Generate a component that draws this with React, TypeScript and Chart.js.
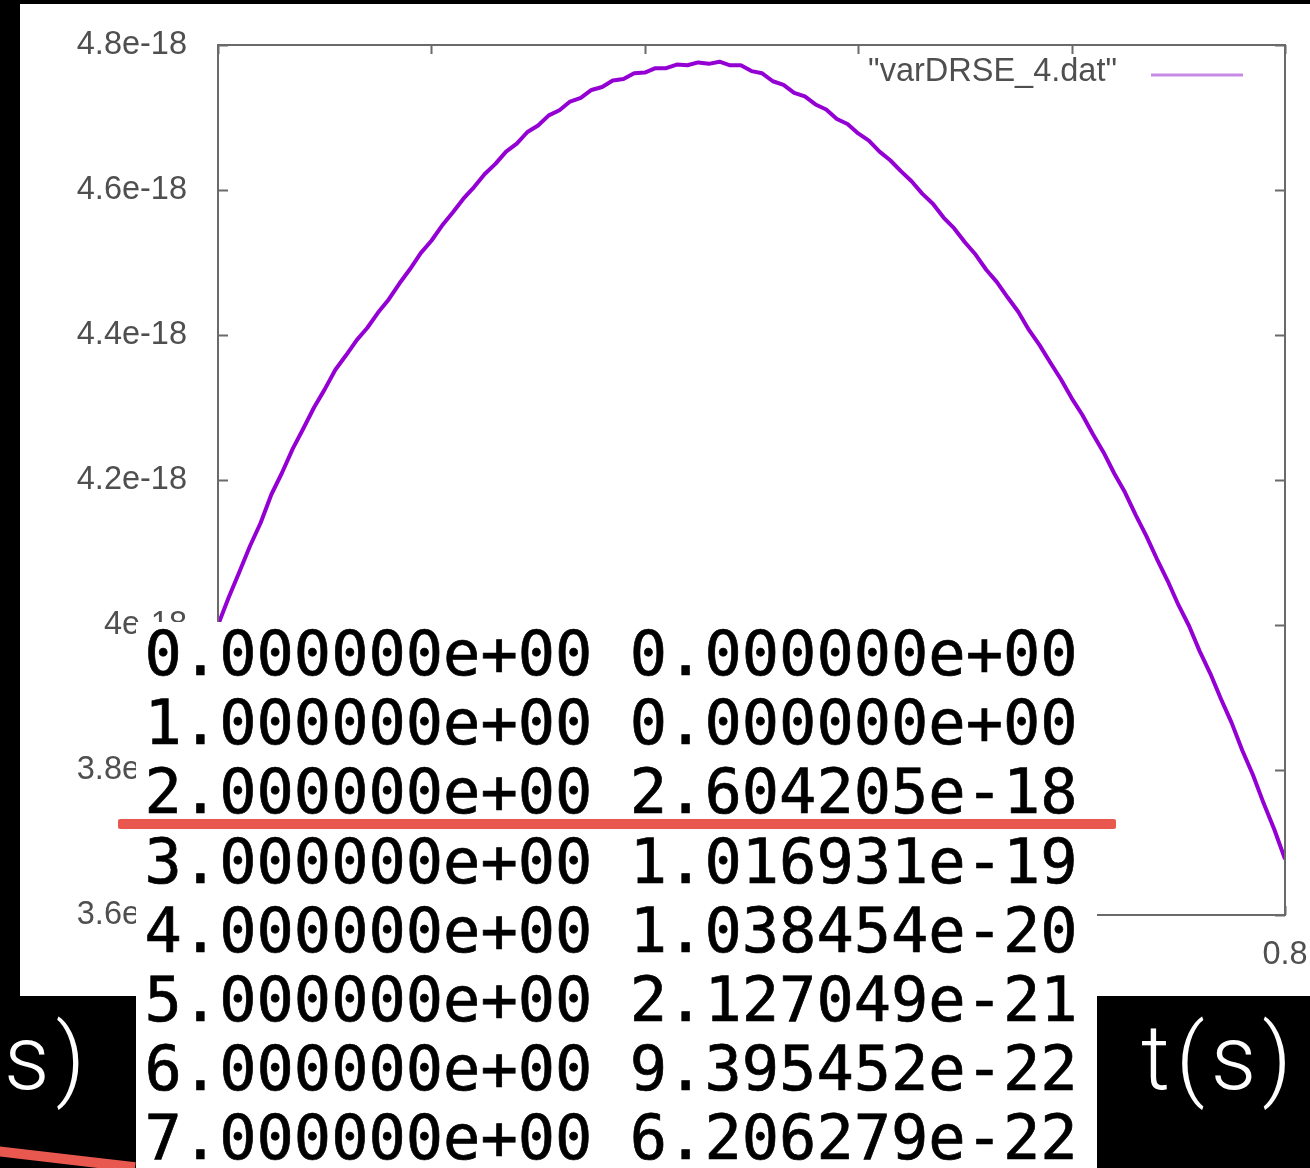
import React, { useEffect, useRef } from "react";
import { Chart, registerables } from "chart.js";

Chart.register(...registerables);

// ---- data ----
const seriesLabel = '"varDRSE_4.dat"';

const tValues = [
  0.300, 0.305, 0.310, 0.315, 0.320, 0.325, 0.330, 0.335, 0.340, 0.345,
  0.350, 0.355, 0.360, 0.365, 0.370, 0.375, 0.380, 0.385, 0.390, 0.395,
  0.400, 0.405, 0.410, 0.415, 0.420, 0.425, 0.430, 0.435, 0.440, 0.445,
  0.450, 0.455, 0.460, 0.465, 0.470, 0.475, 0.480, 0.485, 0.490, 0.495,
  0.500, 0.505, 0.510, 0.515, 0.520, 0.525, 0.530, 0.535, 0.540, 0.545,
  0.550, 0.555, 0.560, 0.565, 0.570, 0.575, 0.580, 0.585, 0.590, 0.595,
  0.600, 0.605, 0.610, 0.615, 0.620, 0.625, 0.630, 0.635, 0.640, 0.645,
  0.650, 0.655, 0.660, 0.665, 0.670, 0.675, 0.680, 0.685, 0.690, 0.695,
  0.700, 0.705, 0.710, 0.715, 0.720, 0.725, 0.730, 0.735, 0.740, 0.745,
  0.750, 0.755, 0.760, 0.765, 0.770, 0.775, 0.780, 0.785, 0.790, 0.795,
  0.800,
];

// variance values, in units of 1e-18
const varValues = [
  4.000, 4.038, 4.073, 4.109, 4.141, 4.180, 4.210, 4.243, 4.271, 4.300,
  4.325, 4.352, 4.372, 4.393, 4.410, 4.431, 4.449, 4.471, 4.491, 4.513,
  4.530, 4.551, 4.569, 4.588, 4.604, 4.622, 4.636, 4.653, 4.664, 4.680,
  4.689, 4.703, 4.710, 4.722, 4.727, 4.738, 4.742, 4.751, 4.753, 4.761,
  4.762, 4.768, 4.768, 4.773, 4.772, 4.776, 4.774, 4.777, 4.772, 4.772,
  4.764, 4.761, 4.750, 4.745, 4.734, 4.729, 4.718, 4.711, 4.698, 4.691,
  4.678, 4.668, 4.653, 4.641, 4.626, 4.612, 4.595, 4.581, 4.562, 4.547,
  4.528, 4.511, 4.490, 4.473, 4.452, 4.432, 4.407, 4.386, 4.362, 4.339,
  4.313, 4.290, 4.263, 4.238, 4.209, 4.183, 4.152, 4.123, 4.091, 4.061,
  4.028, 3.999, 3.964, 3.933, 3.898, 3.865, 3.827, 3.793, 3.754, 3.718,
  3.677,
];

const xMin = 0.3;
const xMax = 0.8;
const xStep = 0.1;
const yMin = 3.6;
const yMax = 4.8;
const yStep = 0.2;
const yExponentSuffix = "e-18";

const tableCol1 = [
  "0.000000e+00",
  "1.000000e+00",
  "2.000000e+00",
  "3.000000e+00",
  "4.000000e+00",
  "5.000000e+00",
  "6.000000e+00",
  "7.000000e+00",
];
const tableCol2 = [
  "0.000000e+00",
  "0.000000e+00",
  "2.604205e-18",
  "1.016931e-19",
  "1.038454e-20",
  "2.127049e-21",
  "9.395452e-22",
  "6.206279e-22",
];

const captionRight = "t(s)";
const captionLeft = "(s)";

// ---- styles ----
const labelFont = '"Liberation Sans", Arial, sans-serif';
const labelSize = 32.5;
const labelColor = "#4f4f4f";
const lineColor = "#9400d3";
const legendLineColor = "#c58be6";
const frameColor = "#6a6a6a";

const gnuplotFrame = {
  id: "gnuplotFrame",
  afterDatasetsDraw(chart: any) {
    const { ctx, chartArea, scales } = chart;
    const { left, right, top, bottom } = chartArea;
    const x = scales.x;
    const y = scales.y;
    ctx.save();
    ctx.strokeStyle = frameColor;
    ctx.lineWidth = 2;
    ctx.strokeRect(left, top, right - left, bottom - top);
    ctx.beginPath();
    y.ticks.forEach((t: any) => {
      const py = Math.round(y.getPixelForValue(t.value)) + 0.5;
      ctx.moveTo(left, py);
      ctx.lineTo(left + 10, py);
      ctx.moveTo(right, py);
      ctx.lineTo(right - 10, py);
    });
    x.ticks.forEach((t: any) => {
      const px = Math.round(x.getPixelForValue(t.value)) + 0.5;
      ctx.moveTo(px, top);
      ctx.lineTo(px, top + 9);
      ctx.moveTo(px, bottom);
      ctx.lineTo(px, bottom - 9);
    });
    ctx.stroke();

    // key (legend) in gnuplot style
    const ds = chart.data.datasets[0];
    ctx.font = `${labelSize}px ${labelFont}`;
    ctx.fillStyle = labelColor;
    ctx.textAlign = "right";
    ctx.textBaseline = "middle";
    ctx.fillText(ds.label, right - 168, top + 27);
    ctx.strokeStyle = legendLineColor;
    ctx.lineWidth = 3;
    ctx.beginPath();
    ctx.moveTo(right - 134, top + 30);
    ctx.lineTo(right - 42, top + 30);
    ctx.stroke();
    ctx.restore();
  },
};

export default function App() {
  const canvasRef = useRef<HTMLCanvasElement>(null);

  useEffect(() => {
    document.body.style.margin = "0";
    const canvas = canvasRef.current;
    if (!canvas) return;
    const chart = new Chart(canvas, {
      type: "line",
      data: {
        datasets: [
          {
            label: seriesLabel,
            data: tValues.map((t, i) => ({ x: t, y: varValues[i] })),
            borderColor: lineColor,
            backgroundColor: lineColor,
            borderWidth: 4,
            pointRadius: 0,
            tension: 0,
            borderJoinStyle: "round",
          },
        ],
      },
      options: {
        responsive: false,
        devicePixelRatio: 1,
        animation: false,
        layout: { padding: { top: 41, right: 25, left: 0, bottom: 0 } },
        plugins: {
          legend: { display: false },
          tooltip: { enabled: false },
        },
        scales: {
          x: {
            type: "linear",
            min: xMin,
            max: xMax,
            grid: { display: false, drawTicks: false },
            border: { display: false },
            ticks: {
              stepSize: xStep,
              padding: 21,
              color: labelColor,
              font: { family: labelFont, size: labelSize },
              maxRotation: 0,
              callback: (v: any) => String(parseFloat(Number(v).toFixed(1))),
            },
            afterFit: (scale: any) => {
              scale.height = 81;
              scale.paddingLeft = 0;
              scale.paddingRight = 0;
            },
          },
          y: {
            type: "linear",
            min: yMin,
            max: yMax,
            grid: { display: false, drawTicks: false },
            border: { display: false },
            ticks: {
              stepSize: yStep,
              padding: 31,
              color: labelColor,
              font: { family: labelFont, size: labelSize },
              callback: (v: any) =>
                String(parseFloat(Number(v).toFixed(1))) + yExponentSuffix,
            },
            afterFit: (scale: any) => {
              scale.width = 198;
              scale.paddingTop = 0;
              scale.paddingBottom = 0;
            },
          },
        },
      },
      plugins: [gnuplotFrame],
    } as any);
    return () => chart.destroy();
  }, []);

  const rowH = 69.2;
  const captionStyle: React.CSSProperties = {
    position: "absolute",
    top: 1015,
    fontFamily: "Roboto, sans-serif",
    fontWeight: 300,
    fontSize: 90,
    lineHeight: "88px",
    letterSpacing: 6,
    color: "#fff",
    whiteSpace: "pre",
  };

  return (
    <div
      style={{
        position: "absolute",
        left: 0,
        top: 0,
        width: 1310,
        height: 1168,
        background: "#000",
        overflow: "hidden",
      }}
    >
      <div
        style={{
          position: "absolute",
          left: 20,
          top: 4,
          width: 1290,
          height: 992,
          background: "#fff",
        }}
      >
        <canvas
          ref={canvasRef}
          width={1290}
          height={992}
          style={{ display: "block", width: 1290, height: 992 }}
        />
      </div>

      {/* data table overlay */}
      <div
        style={{
          position: "absolute",
          left: 136,
          top: 622,
          width: 961,
          height: 546,
          background: "#fff",
          overflow: "hidden",
        }}
      >
        <div style={{ position: "absolute", left: 8.5, top: -3 }}>
          {tableCol1.map((c1, i) => (
            <div
              key={i}
              style={{
                height: rowH,
                lineHeight: `${rowH}px`,
                fontFamily: '"DejaVu Sans Mono", monospace',
                fontSize: 62,
                color: "#000",
                whiteSpace: "pre",
                WebkitTextStroke: "0.7px #000",
              }}
            >
              {c1 + " " + tableCol2[i]}
            </div>
          ))}
        </div>
      </div>

      {/* red underline stroke */}
      <div
        style={{
          position: "absolute",
          left: 118,
          top: 819,
          width: 998,
          height: 10,
          background: "#e8584f",
          borderRadius: 2,
        }}
      />
      {/* red stroke bottom-left */}
      <div
        style={{
          position: "absolute",
          left: -4,
          top: 1146,
          width: 140,
          height: 10,
          background: "#e8584f",
          transform: "rotate(6.7deg)",
          transformOrigin: "0 50%",
        }}
      />

      {/* captions in black boxes */}
      <div style={{ ...captionStyle, right: 1219, textAlign: "right" }}>
        {captionLeft}
      </div>
      <div style={{ ...captionStyle, left: 1141 }}>{captionRight}</div>
    </div>
  );
}
